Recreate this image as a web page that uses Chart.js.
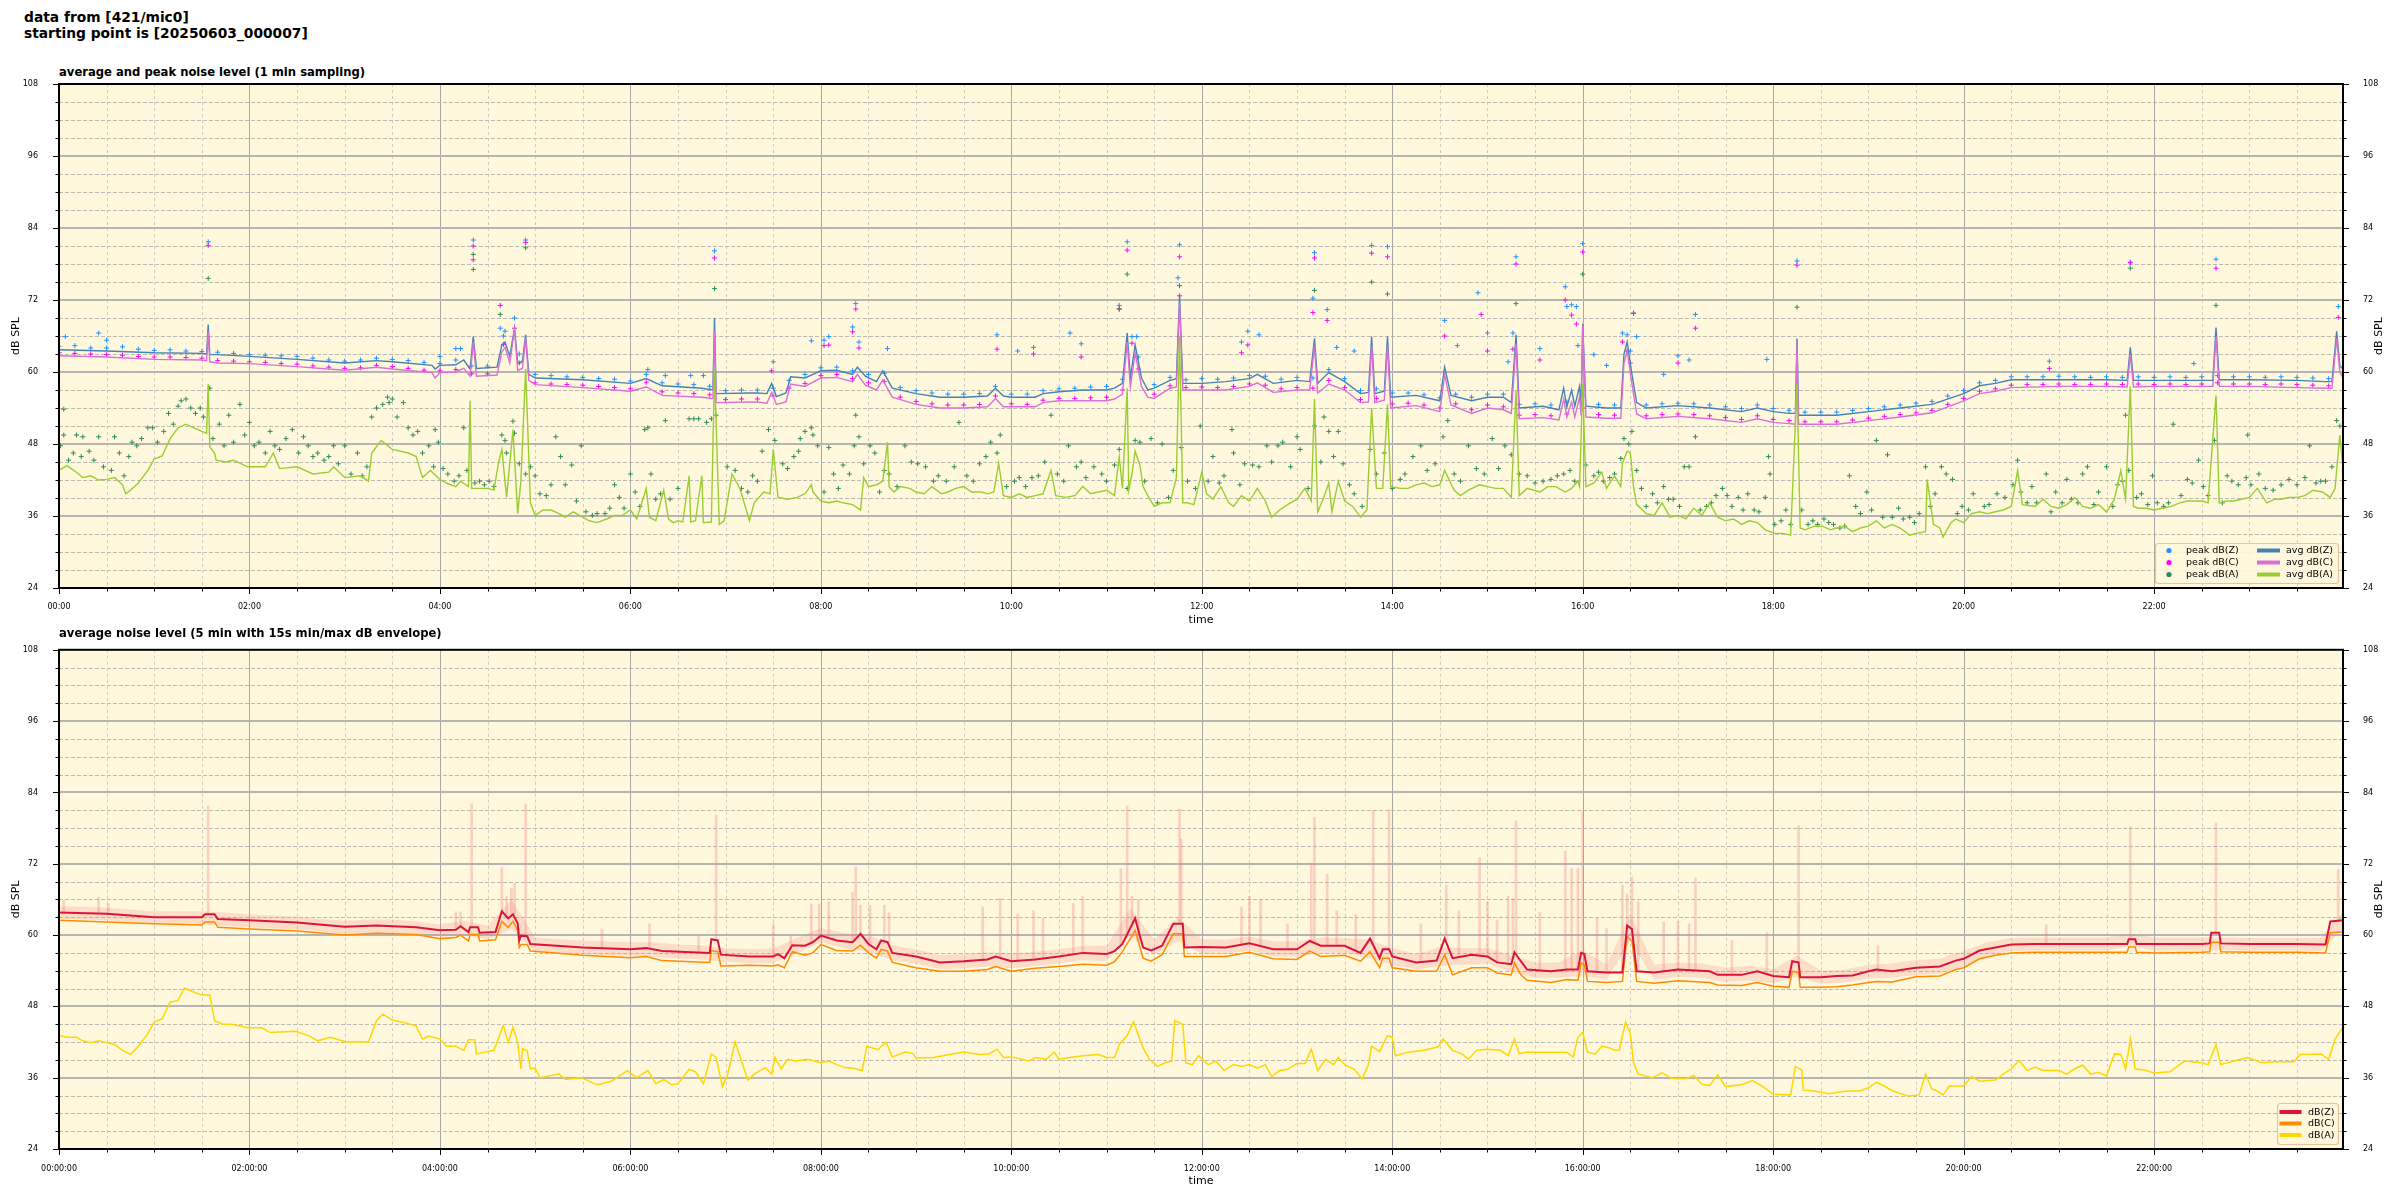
<!DOCTYPE html>
<html lang="en">
<head>
    <meta charset="UTF-8">
    <title>noise level 421/mic0</title>
    <style>
        body {
            margin: 0;
            width: 2400px;
            height: 1200px;
            background: #fff;
            position: relative;
            overflow: hidden;
            font-family: 'DejaVu Sans', sans-serif;
            color: #000;
        }
        .head {
            position: absolute;
            left: 24px;
            top: 10px;
            font-weight: bold;
            font-size: 13.8px;
            line-height: 15.5px;
        }
        .sub {
            position: absolute;
            left: 59px;
            font-weight: bold;
            font-size: 11.6px;
            line-height: 14px;
        }
        canvas {
            position: absolute;
            left: 0;
        }
    </style>
</head>
<body>
    <div class="head">data from [421/mic0]<br>starting point is [20250603_000007]</div>
    <div class="sub" style="top:65px">average and peak noise level (1 min sampling)</div>
    <canvas id="topChart" width="2400" height="572" style="top:60px"></canvas>
    <div class="sub" style="top:626px">average noise level (5 min with 15s min/max dB envelope)</div>
    <canvas id="bottomChart" width="2400" height="568" style="top:632px"></canvas>

    <script src="https://cdn.jsdelivr.net/npm/chart.js"></script>
    <script>
        // all times are minutes after 00:00 of 2025-06-03
        const xTicks = [0, 120, 240, 360, 480, 600, 720, 840, 960, 1080, 1200, 1320];
        const yTicks = [24, 36, 48, 60, 72, 84, 96, 108];

        // ---- top panel: 1 min averages ----
        const avgZCMin = [
            0, 30, 60, 90, 93, 94, 95, 100, 120, 150,
            180, 200, 210, 235, 237, 240, 250, 255, 259, 261,
            263, 276, 279, 281, 284, 287, 289, 292, 294, 296,
            300, 330, 360, 370, 380, 405, 412, 413, 414, 435,
            440, 446, 449, 452, 458, 461, 470, 475, 480, 490,
            500, 503, 508, 515, 519, 525, 540, 555, 570, 585,
            590, 595, 600, 615, 620, 630, 645, 660, 665, 670,
            673, 675, 678, 682, 686, 690, 700, 704, 706, 708,
            720, 735, 750, 755, 765, 780, 788, 791, 793, 800,
            810, 820, 825, 827, 829, 835, 837, 839, 855, 870,
            873, 877, 890, 900, 910, 915, 918, 920, 935, 945,
            948, 950, 953, 955, 958, 959, 960, 962, 975, 984,
            986, 988, 991, 994, 1000, 1020, 1040, 1060, 1070, 1080,
            1090, 1094, 1095, 1096, 1100, 1120, 1140, 1160, 1180, 1200,
            1210, 1220, 1230, 1260, 1290, 1303, 1305, 1307, 1320, 1350,
            1357, 1359, 1361, 1380, 1410, 1428, 1432, 1435, 1437, 1439
        ];
        const avgZ = [
            63.7, 63.5, 63.2, 63.1, 63.0, 67.9, 62.9, 62.9, 62.6, 62.1,
            61.5, 61.9, 61.7, 61.1, 60.5, 61.1, 61.2, 62.0, 60.5, 65.9,
            60.6, 60.8, 64.5, 65.0, 62.6, 67.3, 61.5, 61.8, 66.2, 59.6,
            59.0, 58.7, 58.1, 58.9, 57.7, 57.3, 57.0, 69.0, 56.4, 56.5,
            56.5, 56.4, 58.1, 55.9, 56.5, 59.2, 59.0, 59.6, 60.2, 60.3,
            59.6, 60.8, 59.3, 58.4, 60.2, 57.3, 56.4, 55.8, 55.8, 56.0,
            57.3, 56.0, 55.8, 55.8, 56.4, 56.7, 57.0, 57.0, 57.3, 58.1,
            66.5, 59.0, 64.5, 59.0, 57.0, 57.3, 58.6, 58.9, 72.7, 58.1,
            58.1, 58.4, 58.9, 59.6, 58.1, 58.6, 58.4, 65.6, 58.1, 59.9,
            58.4, 56.4, 56.6, 65.9, 56.4, 56.8, 65.9, 55.8, 56.1, 55.2,
            60.8, 56.1, 55.2, 55.8, 55.8, 54.9, 66.2, 54.0, 54.3, 53.7,
            57.3, 54.2, 57.0, 54.3, 57.6, 54.5, 68.0, 54.3, 54.0, 54.0,
            63.0, 65.0, 59.6, 54.9, 54.0, 54.4, 54.0, 53.4, 54.0, 53.4,
            53.1, 53.1, 65.6, 52.8, 52.8, 52.8, 53.4, 54.0, 54.6, 56.4,
            57.7, 58.1, 58.7, 58.7, 58.7, 58.6, 64.1, 58.6, 58.6, 58.6,
            58.6, 67.4, 58.7, 58.7, 58.6, 58.4, 58.4, 66.8, 61.0, 60.5
        ];
        const avgC = [
            62.7, 62.5, 62.1, 62.0, 61.9, 66.8, 61.7, 61.5, 61.4, 60.9,
            60.3, 60.8, 60.5, 59.9, 59.0, 59.9, 60.0, 60.6, 59.3, 65.0,
            59.3, 59.5, 63.3, 64.1, 61.5, 67.1, 60.3, 60.6, 65.6, 58.6,
            57.9, 57.4, 56.8, 57.5, 56.1, 55.8, 55.6, 66.8, 54.9, 55.0,
            55.0, 54.8, 56.6, 54.6, 55.0, 58.0, 57.6, 58.3, 59.0, 59.1,
            58.4, 59.6, 57.8, 57.0, 58.7, 55.8, 54.6, 54.0, 54.0, 54.2,
            55.6, 54.2, 54.2, 54.2, 54.9, 55.2, 55.2, 55.2, 55.5, 56.3,
            65.0, 57.5, 63.2, 57.6, 55.8, 55.6, 57.3, 57.5, 71.5, 57.0,
            57.0, 57.0, 57.6, 58.2, 56.6, 57.0, 57.0, 64.4, 56.5, 58.0,
            57.0, 54.9, 55.0, 64.4, 54.9, 55.3, 64.4, 54.0, 54.4, 53.4,
            59.6, 54.5, 53.1, 54.0, 53.7, 53.1, 64.7, 52.2, 52.4, 52.0,
            55.5, 52.5, 55.0, 52.5, 55.8, 52.7, 67.7, 52.5, 52.3, 52.3,
            61.5, 63.5, 58.0, 53.0, 52.2, 52.6, 52.2, 51.6, 52.2, 51.6,
            51.4, 51.3, 64.7, 51.3, 51.3, 51.3, 51.9, 52.5, 53.2, 55.2,
            56.4, 56.8, 57.4, 57.6, 57.6, 57.5, 62.9, 57.5, 57.6, 57.6,
            57.6, 65.9, 57.6, 57.6, 57.4, 57.3, 57.3, 65.6, 60.0, 59.0
        ];
        const avgAMin = [
            0, 5, 11, 15, 20, 25, 30, 35, 40, 42,
            45, 50, 56, 60, 65, 70, 75, 80, 85, 90,
            93, 94, 95, 98, 99, 105, 110, 119, 130, 135,
            139, 150, 160, 170, 173, 180, 190, 195, 197, 203,
            210, 220, 225, 229, 234, 240, 244, 250, 253, 258,
            259, 260, 263, 270, 274, 277, 279, 282, 286, 289,
            291, 294, 297, 300, 305, 310, 315, 319, 324, 330,
            334, 339, 345, 350, 355, 360, 364, 370, 372, 376,
            381, 384, 387, 390, 393, 397, 398, 401, 405, 406,
            411, 413, 416, 419, 424, 429, 435, 438, 444, 448,
            450, 453, 459, 465, 470, 474, 475, 480, 485, 490,
            494, 500, 505, 507, 510, 515, 519, 522, 523, 526,
            530, 536, 540, 545, 550, 556, 560, 565, 570, 575,
            581, 585, 589, 592, 595, 600, 605, 610, 615, 620,
            625, 628, 634, 640, 645, 650, 655, 660, 665, 668,
            670, 673, 674, 676, 678, 681, 683, 686, 690, 695,
            700, 704, 706, 708, 711, 715, 720, 723, 727, 732,
            737, 740, 745, 750, 755, 760, 764, 769, 774, 780,
            785, 789, 791, 793, 796, 800, 802, 806, 810, 815,
            820, 824, 827, 830, 834, 837, 839, 845, 850, 855,
            860, 865, 870, 873, 879, 883, 888, 895, 900, 905,
            910, 915, 918, 920, 925, 933, 938, 943, 949, 953,
            957, 958, 960, 962, 967, 972, 975, 980, 984, 985,
            988, 990, 992, 994, 1000, 1005, 1010, 1015, 1020, 1025,
            1030, 1035, 1040, 1045, 1050, 1055, 1060, 1065, 1070, 1075,
            1081, 1086, 1091, 1095, 1097, 1100, 1106, 1111, 1116, 1120,
            1125, 1130, 1135, 1140, 1145, 1150, 1155, 1160, 1166, 1170,
            1176, 1177, 1181, 1185, 1187, 1192, 1195, 1200, 1205, 1210,
            1215, 1220, 1225, 1230, 1234, 1237, 1245, 1250, 1255, 1260,
            1265, 1270, 1275, 1280, 1285, 1290, 1295, 1299, 1302, 1305,
            1307, 1310, 1315, 1320, 1325, 1331, 1336, 1341, 1346, 1350,
            1354, 1359, 1361, 1366, 1370, 1375, 1380, 1385, 1391, 1396,
            1400, 1405, 1410, 1415, 1420, 1426, 1431, 1434, 1437, 1439
        ];
        const avgA = [
            43.6, 44.4, 43.3, 42.4, 42.7, 42.0, 42.1, 42.4, 41.2, 39.7,
            40.3, 41.5, 43.6, 45.5, 46.0, 48.9, 50.7, 51.3, 50.7, 50.1,
            49.8, 58.0, 47.5, 46.5, 45.3, 45.0, 45.3, 44.2, 44.2, 46.5,
            43.9, 44.2, 43.0, 43.3, 44.2, 42.4, 42.7, 41.8, 46.5, 48.6,
            47.1, 46.5, 45.9, 42.4, 43.6, 42.1, 41.5, 40.9, 41.8, 40.9,
            55.2, 40.6, 40.6, 40.6, 40.3, 45.0, 47.1, 39.1, 50.4, 36.4,
            41.8, 60.5, 38.2, 36.1, 37.0, 37.0, 36.4, 35.8, 36.7, 35.8,
            35.2, 34.9, 35.5, 36.1, 36.1, 37.0, 35.5, 40.6, 35.8, 35.2,
            40.3, 35.5, 34.9, 35.2, 35.0, 42.7, 35.0, 35.2, 42.7, 34.9,
            35.0, 60.2, 34.6, 35.2, 43.0, 40.6, 35.2, 38.2, 40.0, 39.7,
            47.1, 39.1, 38.8, 39.1, 39.7, 41.2, 40.0, 38.5, 38.2, 38.5,
            38.2, 37.9, 37.0, 42.4, 40.9, 41.2, 41.8, 48.3, 40.9, 40.0,
            40.9, 40.6, 40.0, 39.7, 40.9, 39.7, 40.0, 40.6, 40.9, 40.0,
            40.0, 39.7, 40.0, 44.8, 39.4, 39.1, 39.7, 39.1, 39.4, 39.7,
            43.6, 39.4, 39.1, 39.4, 40.9, 39.7, 40.0, 40.3, 39.4, 45.9,
            40.6, 57.3, 40.3, 43.0, 46.8, 44.5, 40.9, 39.4, 37.6, 38.2,
            38.2, 42.4, 66.0, 38.2, 38.2, 37.9, 43.3, 39.7, 38.8, 40.9,
            38.2, 37.6, 39.4, 38.5, 40.6, 38.5, 35.8, 37.0, 37.9, 38.8,
            40.6, 38.5, 55.5, 36.7, 38.5, 41.5, 36.7, 41.8, 38.5, 37.6,
            35.8, 37.0, 54.0, 40.6, 40.6, 54.6, 40.9, 40.6, 40.6, 41.2,
            41.5, 40.9, 41.2, 43.6, 40.3, 39.4, 40.3, 41.2, 40.9, 40.6,
            40.6, 39.1, 57.0, 39.4, 40.6, 40.0, 40.9, 40.9, 40.0, 40.6,
            41.8, 40.9, 58.0, 40.9, 41.5, 43.3, 40.6, 42.7, 40.9, 44.8,
            46.8, 46.5, 40.9, 37.9, 36.4, 36.1, 38.2, 35.8, 36.1, 35.5,
            37.3, 36.1, 38.2, 35.8, 35.2, 35.5, 34.6, 35.2, 34.9, 33.7,
            33.1, 33.1, 32.8, 58.0, 34.0, 33.7, 34.3, 34.3, 33.7, 34.0,
            34.3, 33.4, 34.0, 34.3, 35.2, 34.0, 34.6, 34.0, 32.8, 33.1,
            33.4, 42.1, 34.6, 34.0, 32.5, 34.9, 35.5, 34.9, 36.4, 36.7,
            36.4, 36.7, 37.0, 37.6, 43.6, 37.9, 37.6, 38.8, 37.6, 37.3,
            37.9, 39.1, 37.6, 37.3, 37.9, 36.7, 38.8, 43.6, 38.8, 57.6,
            37.6, 37.3, 37.3, 37.0, 37.3, 37.6, 38.2, 38.5, 38.5, 38.5,
            38.2, 56.1, 38.2, 38.5, 38.5, 38.8, 39.1, 40.6, 38.2, 38.8,
            38.8, 39.1, 39.1, 39.4, 40.3, 40.0, 39.1, 40.6, 49.5, 44.0
        ];

        // ---- top panel: 1 min peaks, read every 10 min along the dense band ----
        const peakZ = [
            64.3, 64.4, 64.0, 64.0, 64.2, 63.8, 63.6, 63.7, 63.5, 63.4,
            63.3, 63.1, 62.9, 62.8, 62.7, 62.6, 62.3, 62.0, 61.8, 62.0,
            62.3, 62.1, 61.9, 61.6, 61.4, 62.0, 61.0, 61.0, 66.0, 63.0,
            59.6, 59.4, 59.2, 59.1, 58.9, 58.8, 58.5, 59.6, 58.2, 58.0,
            57.9, 57.6, 56.9, 57.0, 57.0, 57.3, 58.6, 59.6, 60.7, 60.8,
            60.2, 59.6, 59.8, 57.4, 56.9, 56.5, 56.3, 56.3, 56.4, 57.6,
            56.3, 56.3, 56.9, 57.2, 57.3, 57.5, 57.6, 58.8, 62.5, 57.9,
            59.1, 58.7, 58.9, 58.8, 59.0, 59.4, 59.3, 58.8, 59.1, 59.0,
            60.4, 58.9, 56.9, 57.2, 56.5, 56.5, 56.2, 55.7, 56.3, 55.8,
            56.3, 56.3, 54.6, 54.7, 54.5, 55.0, 56.0, 54.6, 54.5, 63.5,
            54.5, 54.7, 54.8, 54.7, 54.5, 54.2, 53.9, 54.5, 53.9, 53.6,
            53.3, 53.3, 53.3, 53.6, 53.9, 54.2, 54.5, 54.8, 55.1, 56.0,
            56.9, 58.2, 58.6, 59.2, 59.2, 59.2, 59.3, 59.2, 59.1, 59.2,
            59.1, 59.2, 59.1, 59.2, 59.1, 59.2, 59.4, 59.2, 59.2, 59.1,
            59.2, 59.1, 59.0, 58.9
        ];
        const peakC = [
            63.2, 63.1, 63.0, 62.9, 62.8, 62.6, 62.5, 62.5, 62.4, 62.3,
            61.9, 61.8, 61.7, 61.6, 61.4, 61.3, 61.0, 60.8, 60.6, 60.7,
            61.1, 60.9, 60.6, 60.3, 60.2, 60.4, 59.7, 59.7, 64.6, 61.5,
            58.2, 58.0, 57.9, 57.8, 57.6, 57.4, 57.2, 58.3, 56.7, 56.5,
            56.4, 56.2, 55.4, 55.5, 55.5, 56.0, 57.3, 58.1, 59.4, 59.6,
            58.9, 58.2, 58.4, 55.8, 55.1, 54.7, 54.5, 54.5, 54.6, 56.0,
            54.7, 54.6, 55.3, 55.6, 55.6, 55.7, 55.8, 57.0, 60.5, 56.3,
            57.7, 57.4, 57.5, 57.4, 57.6, 58.0, 57.8, 57.2, 57.4, 57.3,
            58.6, 57.4, 55.4, 55.6, 54.7, 54.8, 54.5, 54.0, 54.7, 53.7,
            54.5, 54.2, 52.8, 52.9, 52.7, 53.0, 54.0, 52.9, 52.8, 61.5,
            52.7, 52.9, 53.0, 52.9, 52.7, 52.4, 52.1, 52.7, 52.1, 51.9,
            51.7, 51.7, 51.7, 52.0, 52.3, 52.6, 52.9, 53.2, 53.6, 54.6,
            55.6, 56.8, 57.2, 57.8, 57.9, 57.9, 58.0, 57.9, 57.9, 58.0,
            57.9, 58.0, 57.9, 58.0, 57.9, 58.0, 58.2, 58.0, 58.0, 57.9,
            58.0, 57.9, 57.8, 57.7
        ];
        // 10 minute slots for the two arrays above
        const peakSlotMin = peakZ.map((_, i) => i * 10);

        const peakZOutMin = [
            4, 25, 30, 94, 240, 250, 253, 261, 278, 281,
            287, 294, 371, 382, 398, 406, 413, 450, 474, 482,
            485, 500, 502, 504, 522, 591, 604, 614, 637, 644,
            668, 673, 676, 679, 705, 706, 745, 749, 756, 790,
            791, 799, 805, 816, 827, 837, 873, 881, 894, 900,
            913, 916, 918, 933, 949, 950, 953, 956, 957, 960,
            967, 975, 985, 988, 992, 994, 1011, 1020, 1027, 1031,
            1076, 1095, 1254, 1305, 1345, 1359, 1436
        ];
        const peakZOut = [
            65.9, 66.5, 65.3, 81.7, 62.6, 63.9, 63.9, 82.0, 67.3, 66.8,
            69.0, 82.0, 60.4, 59.4, 59.4, 59.4, 80.2, 61.7, 65.2, 65.3,
            65.9, 67.5, 71.4, 65.0, 63.9, 66.2, 63.5, 64.1, 66.5, 64.7,
            71.1, 81.7, 65.9, 65.9, 75.7, 81.2, 65.0, 66.8, 66.2, 72.3,
            79.9, 70.4, 64.1, 63.5, 81.1, 80.9, 68.6, 64.4, 73.2, 66.5,
            61.7, 66.5, 79.2, 63.9, 74.2, 70.9, 71.2, 70.9, 64.4, 81.4,
            62.9, 61.1, 66.5, 66.2, 69.8, 65.9, 59.6, 62.7, 62.0, 69.6,
            62.1, 78.5, 61.8, 78.3, 61.4, 78.8, 70.9
        ];
        const peakCOutMin = [
            94, 261, 261, 278, 287, 294, 413, 449, 482, 485,
            500, 502, 504, 591, 614, 644, 668, 673, 676, 706,
            706, 745, 749, 790, 791, 799, 827, 837, 873, 896,
            900, 916, 918, 933, 949, 953, 956, 960, 985, 988,
            992, 1020, 1031, 1095, 1254, 1305, 1359, 1436
        ];
        const peakCOut = [
            81.1, 81.0, 78.7, 71.1, 67.3, 81.6, 79.0, 60.2, 64.4, 64.5,
            66.7, 70.5, 64.0, 63.8, 63.0, 62.5, 70.5, 80.3, 64.8, 79.2,
            72.7, 63.2, 64.5, 69.9, 79.0, 68.6, 79.8, 79.2, 66.0, 69.6,
            63.5, 63.8, 78.0, 62.0, 72.0, 69.5, 68.0, 80.0, 65.0, 63.5,
            69.8, 61.5, 67.3, 77.8, 60.6, 78.2, 77.3, 69.1
        ];
        const peakAMin = [
            1, 3, 3, 6, 9, 11, 14, 15, 19, 22,
            25, 28, 33, 35, 38, 41, 44, 46, 49, 52,
            56, 59, 62, 66, 69, 72, 75, 77, 80, 83,
            86, 89, 91, 95, 97, 101, 104, 107, 110, 114,
            117, 120, 123, 126, 130, 133, 136, 139, 143, 147,
            151, 154, 157, 160, 163, 167, 170, 173, 176, 180,
            184, 188, 191, 194, 197, 200, 204, 207, 208, 210,
            213, 217, 220, 223, 226, 229, 233, 236, 237, 239,
            242, 245, 249, 252, 255, 257, 262, 265, 268, 271,
            274, 279, 281, 282, 286, 287, 290, 294, 297, 300,
            303, 307, 310, 313, 316, 319, 323, 326, 329, 332,
            336, 339, 344, 347, 350, 353, 356, 360, 363, 366,
            369, 371, 373, 376, 379, 382, 385, 390, 397, 400,
            403, 408, 411, 414, 421, 426, 430, 434, 437, 440,
            443, 447, 451, 456, 459, 463, 466,
            467, 470, 474, 475, 478, 482, 485, 488, 491, 494,
            498, 501, 502, 504, 507, 511, 514, 517, 520, 523,
            528, 533, 537, 541, 546, 551, 554, 559, 564, 567,
            572, 576, 580, 584, 587, 591, 593, 597, 602, 605,
            609, 613, 617, 621, 625, 629, 633, 636, 641, 644,
            647, 652, 657, 660, 665, 668, 673, 678, 681, 684,
            688, 692, 695, 699, 702, 707, 711, 716, 719, 724,
            727, 731, 734, 739, 740, 744, 747, 752, 756, 761,
            764, 768, 771, 776, 780, 782, 787, 791, 795, 797,
            800, 803, 806, 809, 813, 816, 821, 826, 830, 835,
            840, 845, 848, 853, 858, 862, 867, 872, 875, 879,
            883, 888, 893, 898, 903, 907, 911, 915, 920, 925,
            930, 935, 940, 944,
            948, 952, 955, 962, 967, 970, 973, 977, 980, 984,
            986, 989, 991, 994, 997, 1000, 1004, 1007, 1011, 1014,
            1017, 1021, 1024, 1027, 1031, 1034, 1038, 1041, 1044, 1048,
            1051, 1054, 1058, 1061, 1064, 1068, 1071, 1075, 1077, 1078,
            1081, 1085, 1088, 1091, 1098, 1102, 1105, 1108, 1112, 1115,
            1118, 1122, 1125, 1128, 1132, 1135, 1139, 1142, 1145, 1149,
            1152, 1155, 1159, 1162, 1166, 1169, 1172, 1176, 1179, 1182,
            1186, 1189, 1193, 1196, 1199, 1203, 1206, 1213, 1216, 1221,
            1226, 1231, 1234, 1236, 1240, 1243, 1246, 1252, 1255, 1258,
            1262, 1265, 1268, 1272, 1275, 1278, 1282, 1285, 1290, 1294,
            1297, 1300, 1302, 1304, 1309, 1312, 1316, 1319, 1322, 1326,
            1329, 1332, 1337, 1341, 1344, 1348, 1351, 1354, 1358, 1363,
            1366, 1369, 1373, 1378, 1379, 1381, 1386, 1390, 1395, 1400,
            1405, 1410, 1415, 1418, 1422, 1425, 1428, 1432, 1435, 1437,
            94, 261, 261, 278, 294, 413, 668, 673, 706, 791,
            827, 837, 918, 960, 1095, 1305, 1359
        ];
        const peakA = [
            47.7, 49.5, 53.8, 45.3, 46.5, 49.5, 45.9, 49.2, 46.8, 45.3,
            49.2, 44.2, 43.6, 49.2, 46.5, 42.7, 45.9, 48.3, 47.7, 48.9,
            50.7, 50.7, 48.3, 50.1, 53.1, 51.3, 54.3, 55.2, 55.5, 54.0,
            53.1, 54.0, 52.5, 57.3, 48.9, 51.3, 47.7, 52.8, 48.3, 54.6,
            49.5, 51.6, 47.7, 48.3, 46.5, 50.1, 47.7, 47.1, 48.9, 50.4,
            46.5, 49.2, 47.7, 45.9, 46.5, 45.3, 45.9, 47.7, 44.7, 47.7,
            43.0, 46.5, 42.7, 44.2, 52.5, 54.0, 54.6, 55.8, 54.9, 55.5,
            52.5, 54.9, 50.7, 49.5, 50.1, 46.5, 47.7, 44.2, 50.4, 48.3,
            43.9, 43.0, 41.8, 42.7, 50.7, 43.6, 41.5, 41.8, 41.2, 41.8,
            40.9, 49.5, 48.6, 46.5, 51.8, 49.8, 44.7, 43.0, 44.2, 42.7,
            39.7, 39.4, 41.2, 49.2, 45.9, 41.2, 44.5, 38.5, 47.7, 36.7,
            36.1, 36.4, 36.4, 37.3, 41.2, 39.1, 37.3, 43.0, 40.0, 37.6,
            50.4, 50.7, 43.0, 38.8, 39.7, 51.9, 38.8, 40.6, 52.2, 52.2,
            52.2, 51.6, 52.2, 52.8, 44.2, 43.6, 40.6, 40.0, 42.7, 41.8,
            46.8, 50.4, 48.6, 44.7, 43.9, 45.9, 46.8,
            48.9, 50.1, 50.7, 49.5, 47.7, 40.0, 47.4, 43.0, 40.6, 44.5,
            43.0, 47.7, 52.8, 49.2, 44.7, 47.7, 46.5, 40.0, 43.6, 43.0,
            40.9, 47.7, 45.0, 44.7, 44.2, 41.8, 42.7, 41.8, 44.2, 51.6,
            42.7, 41.8, 44.7, 45.9, 48.3, 46.5, 49.5, 40.9, 41.8, 42.4,
            40.9, 42.4, 42.7, 45.0, 52.8, 43.0, 41.8, 47.7, 44.2, 45.0,
            42.4, 44.2, 43.0, 41.8, 44.5, 47.1, 40.6, 48.6, 48.3, 41.8,
            48.9, 38.2, 48.0, 39.1, 43.6, 47.4, 41.8, 40.6, 51.0, 41.8,
            45.9, 41.5, 42.7, 50.4, 46.5, 41.2, 44.7, 44.5, 44.2, 47.7,
            45.0, 47.7, 48.3, 44.2, 49.2, 47.1, 40.6, 51.0, 45.0, 52.5,
            50.1, 45.9, 50.1, 44.7, 41.2, 39.7, 37.6, 47.1, 43.0, 46.5,
            40.6, 42.1, 43.0, 45.9, 47.7, 43.6, 44.7, 49.2, 51.9, 43.0,
            41.8, 47.7, 43.9, 43.0, 48.9, 43.9, 47.7, 46.2, 43.0, 42.7,
            41.5, 41.8, 42.1, 42.7,
            43.0, 43.6, 41.8, 44.5, 42.7, 43.3, 41.8, 42.4, 43.0, 45.6,
            48.9, 48.0, 50.1, 43.6, 40.6, 37.6, 39.7, 38.2, 40.9, 38.8,
            38.8, 37.6, 44.2, 44.2, 49.2, 37.0, 37.6, 38.2, 39.4, 40.6,
            39.4, 37.6, 39.1, 37.0, 39.7, 37.0, 36.7, 39.1, 45.9, 43.0,
            34.6, 35.2, 37.0, 34.6, 37.0, 34.6, 35.2, 34.6, 35.5, 34.9,
            34.6, 34.0, 34.3, 42.7, 37.6, 36.4, 40.0, 37.0, 48.6, 35.8,
            46.2, 35.8, 37.3, 35.5, 35.8, 34.9, 36.4, 44.2, 37.6, 39.7,
            44.2, 43.0, 42.1, 36.4, 37.6, 37.0, 39.7, 37.6, 37.9, 39.7,
            39.1, 41.2, 45.3, 40.0, 38.2, 40.9, 38.2, 43.0, 36.7, 40.0,
            38.2, 42.1, 38.8, 38.2, 43.0, 44.2, 37.9, 40.0, 44.2, 37.6,
            41.2, 41.8, 52.8, 43.6, 39.1, 39.7, 37.9, 42.7, 38.2, 37.6,
            38.2, 51.3, 39.4, 42.1, 41.5, 45.3, 40.9, 39.4, 48.6, 38.2,
            42.7, 41.8, 41.2, 42.4, 49.5, 41.2, 43.0, 40.6, 40.3, 41.2,
            42.1, 41.2, 42.4, 47.7, 41.5, 41.8, 41.8, 44.2, 51.9, 51.0,
            75.6, 79.6, 77.1, 69.6, 80.7, 73.9, 70.5, 76.3, 74.4, 73.6,
            75.0, 73.0, 71.4, 76.3, 70.8, 77.3, 71.1
        ];

        // ---- bottom panel: 5 min averages ----
        const botMin = [
            0, 30, 60, 90, 92, 98, 100, 120, 150, 180,
            200, 225, 240, 250, 253, 258, 259, 264, 265, 275,
            279, 283, 286, 289, 290, 291, 295, 297, 330, 360,
            370, 380, 410, 411, 415, 417, 435, 450, 453, 457,
            462, 470, 475, 480, 490, 500, 505, 510, 515, 518,
            522, 525, 540, 555, 570, 585, 590, 600, 615, 630,
            645, 660, 665, 670, 678, 683, 688, 695, 702, 708,
            709, 720, 735, 750, 765, 780, 788, 795, 810, 820,
            826, 832, 834, 838, 840, 855, 868, 873, 878, 890,
            900, 906, 915, 917, 921, 925, 940, 950, 957, 959,
            961, 963, 975, 985, 988, 991, 994, 1005, 1020, 1040,
            1045, 1060, 1070, 1080, 1090, 1092, 1096, 1097, 1110, 1120,
            1130, 1140, 1145, 1155, 1170, 1185, 1195, 1200, 1210, 1220,
            1230, 1245, 1260, 1290, 1303, 1304, 1308, 1309, 1320, 1350,
            1355, 1356, 1361, 1362, 1380, 1410, 1428, 1431, 1439
        ];
        const botZ = [
            63.8, 63.6, 63.0, 63.0, 63.5, 63.5, 62.7, 62.5, 62.1, 61.4,
            61.6, 61.3, 60.8, 60.9, 61.5, 60.5, 61.3, 61.3, 60.4, 60.5,
            64.0, 62.8, 63.5, 62.0, 59.1, 59.9, 59.8, 58.5, 57.9, 57.6,
            57.8, 57.3, 57.0, 59.3, 59.1, 56.7, 56.4, 56.4, 56.8, 56.1,
            58.3, 58.2, 58.8, 59.9, 59.1, 58.8, 60.2, 58.5, 57.6, 59.1,
            58.8, 57.0, 56.4, 55.4, 55.6, 55.9, 56.4, 55.6, 55.9, 56.4,
            57.0, 56.8, 57.3, 58.5, 62.8, 57.9, 57.4, 58.2, 61.9, 61.9,
            57.9, 58.0, 57.9, 58.6, 57.6, 57.6, 59.0, 58.2, 58.2, 57.0,
            59.4, 56.1, 57.6, 57.6, 56.4, 55.4, 55.7, 59.4, 56.1, 56.7,
            56.4, 55.4, 55.1, 57.1, 55.6, 54.2, 53.9, 54.2, 54.2, 57.0,
            56.8, 53.9, 53.7, 53.7, 61.6, 61.0, 53.9, 53.7, 54.2, 53.9,
            53.3, 53.3, 53.9, 53.1, 52.9, 55.6, 55.4, 52.9, 52.9, 53.1,
            53.2, 53.9, 54.2, 53.9, 54.5, 54.7, 55.7, 56.0, 57.4, 57.9,
            58.4, 58.5, 58.5, 58.5, 58.5, 59.3, 59.3, 58.5, 58.5, 58.5,
            58.6, 60.4, 60.4, 58.6, 58.5, 58.5, 58.4, 62.3, 62.5
        ];
        const botC = [
            62.5, 62.2, 61.9, 61.7, 62.2, 62.2, 61.3, 61.0, 60.7, 60.0,
            60.3, 60.1, 59.4, 59.6, 60.0, 59.0, 60.1, 60.1, 59.0, 59.2,
            62.3, 61.3, 62.3, 60.8, 57.9, 58.4, 58.4, 57.3, 56.6, 56.2,
            56.4, 55.7, 55.4, 57.4, 57.2, 54.8, 54.9, 54.8, 55.0, 54.5,
            57.2, 56.6, 57.0, 58.4, 57.4, 57.3, 58.3, 57.0, 56.1, 57.6,
            57.3, 55.4, 54.5, 53.9, 53.9, 54.2, 54.7, 53.9, 54.4, 54.7,
            55.1, 54.9, 55.5, 57.2, 60.8, 56.1, 55.6, 56.7, 60.2, 60.2,
            56.4, 56.4, 56.4, 57.1, 56.0, 55.9, 57.3, 56.4, 56.6, 55.6,
            57.2, 54.5, 56.1, 56.1, 54.5, 53.9, 53.9, 56.7, 53.3, 54.5,
            54.5, 53.6, 53.3, 55.3, 53.3, 52.4, 52.0, 52.5, 52.4, 55.3,
            55.0, 52.2, 52.0, 52.2, 59.8, 59.0, 52.2, 51.9, 52.3, 52.0,
            51.6, 51.5, 52.0, 51.4, 51.2, 53.9, 53.7, 51.2, 51.2, 51.3,
            51.6, 52.0, 52.2, 52.1, 53.0, 53.1, 54.2, 54.5, 56.0, 56.6,
            57.0, 57.1, 57.1, 57.1, 57.1, 58.0, 58.0, 57.1, 57.0, 57.1,
            57.2, 58.8, 58.8, 57.2, 57.1, 57.1, 57.0, 60.4, 60.5
        ];
        const botAMin = [
            0, 5, 11, 15, 20, 25, 30, 35, 40, 45,
            50, 56, 60, 65, 70, 75, 79, 84, 90, 95,
            98, 103, 109, 119, 128, 133, 139, 149, 158, 163,
            171, 181, 189, 195, 200, 204, 210, 220, 225, 229,
            233, 240, 244, 250, 255, 258, 262, 263, 274, 280,
            283, 286, 289, 291, 292, 295, 297, 300, 303, 315,
            319, 329, 339, 348, 358, 364, 371, 376, 381, 386,
            390, 397, 401, 406, 411, 414, 418, 421, 426, 430,
            434, 438, 445, 449, 451, 455, 459, 464, 472, 480,
            485, 490, 495, 500, 506, 509, 516, 521, 525, 533,
            538, 540, 551, 561, 570, 580, 586, 591, 595, 600,
            611, 615, 622, 627, 630, 637, 645, 655, 660, 665,
            668, 673, 677, 683, 687, 692, 697, 701, 703, 708,
            710, 714, 718, 724, 729, 734, 740, 745, 750, 755,
            760, 764, 769, 774, 780, 785, 789, 793, 798, 803,
            806, 810, 816, 821, 825, 827, 832, 837, 840, 842,
            850, 860, 869, 872, 878, 884, 888, 893, 900, 908,
            913, 917, 920, 924, 935, 944, 950, 954, 957, 960,
            963, 968, 972, 977, 980, 983, 987, 990, 992, 995,
            1004, 1010, 1016, 1020, 1025, 1030, 1035, 1040, 1045, 1050,
            1060, 1067, 1074, 1080, 1091, 1094, 1098, 1099, 1105, 1115,
            1125, 1135, 1140, 1145, 1150, 1155, 1165, 1172, 1176, 1180,
            1183, 1187, 1191, 1200, 1205, 1210, 1220, 1225, 1230, 1235,
            1240, 1245, 1250, 1260, 1265, 1270, 1275, 1280, 1285, 1290,
            1295, 1299, 1302, 1305, 1308, 1315, 1320, 1330, 1339, 1350,
            1354, 1359, 1362, 1370, 1379, 1388, 1397, 1408, 1412, 1425,
            1430, 1434, 1439
        ];
        const botA = [
            43.1, 42.8, 42.8, 42.2, 41.9, 42.2, 41.9, 41.6, 40.6, 39.9,
            41.3, 43.4, 45.4, 45.9, 48.7, 49.0, 51.1, 50.5, 49.9, 49.9,
            45.6, 45.0, 45.0, 44.4, 44.4, 43.6, 43.7, 43.8, 43.0, 42.2,
            42.8, 42.0, 42.0, 42.0, 45.6, 46.7, 45.7, 45.1, 44.7, 42.5,
            43.0, 42.5, 41.3, 41.3, 40.6, 42.4, 42.4, 40.0, 40.6, 44.8,
            41.9, 44.5, 41.9, 37.5, 40.9, 40.5, 37.5, 37.6, 36.0, 36.6,
            35.7, 36.0, 34.8, 35.4, 37.2, 36.0, 37.2, 35.0, 35.7, 34.8,
            35.0, 37.4, 37.0, 35.0, 40.0, 39.4, 34.5, 36.3, 42.0, 38.8,
            35.6, 36.6, 37.7, 36.6, 39.5, 37.5, 39.1, 38.8, 39.1, 38.5,
            38.8, 38.2, 37.7, 37.6, 37.2, 41.3, 40.7, 42.0, 39.5, 40.3,
            40.1, 39.3, 39.4, 39.9, 40.3, 39.9, 40.0, 40.8, 39.4, 39.5,
            38.8, 39.4, 39.1, 40.3, 39.1, 39.4, 39.7, 39.9, 39.4, 39.4,
            41.6, 43.1, 45.4, 41.0, 39.1, 37.9, 38.5, 38.8, 45.6, 45.0,
            38.5, 38.2, 39.7, 38.2, 38.8, 37.2, 38.2, 37.9, 38.2, 37.6,
            38.2, 36.2, 37.2, 37.4, 38.4, 38.4, 40.8, 37.2, 39.1, 38.2,
            39.4, 38.2, 37.4, 35.8, 38.2, 41.3, 40.4, 43.1, 42.8, 39.7,
            40.3, 40.6, 41.2, 42.5, 40.6, 40.0, 39.1, 40.6, 40.8, 40.6,
            39.7, 42.5, 40.0, 40.3, 40.3, 40.3, 40.3, 39.5, 42.8, 43.6,
            40.3, 40.0, 41.3, 41.0, 40.6, 40.6, 45.4, 43.4, 38.5, 36.6,
            36.0, 36.8, 35.9, 35.8, 35.8, 36.4, 34.9, 34.7, 36.5, 34.5,
            34.8, 35.5, 34.4, 33.2, 33.1, 37.9, 37.3, 33.9, 33.8, 33.3,
            33.7, 33.8, 34.3, 35.2, 34.6, 33.8, 32.9, 33.1, 36.6, 34.1,
            33.8, 33.1, 34.6, 34.6, 36.2, 35.4, 35.6, 36.6, 37.5, 38.9,
            37.2, 37.8, 37.2, 37.2, 36.6, 37.5, 38.1, 36.6, 36.9, 36.3,
            40.0, 39.9, 37.5, 42.5, 37.5, 37.2, 36.8, 37.0, 38.8, 38.5,
            38.2, 41.6, 38.2, 38.8, 39.4, 38.5, 38.7, 38.7, 39.9, 40.0,
            39.1, 42.5, 44.5
        ];

        // ---- bottom panel: 15 s min/max envelope ----
        const envMin = [
            0, 15, 30, 45, 60, 75, 90, 105, 120, 135,
            150, 165, 180, 195, 210, 225, 240, 255, 270, 285,
            300, 315, 330, 345, 360, 375, 390, 405, 420, 435,
            450, 465, 480, 495, 510, 525, 540, 555, 570, 585,
            600, 615, 630, 645, 660, 675, 690, 705, 720, 735,
            750, 765, 780, 795, 810, 825, 840, 855, 870, 885,
            900, 915, 930, 945, 960, 975, 990, 1005, 1020, 1035,
            1050, 1065, 1080, 1095, 1110, 1125, 1140, 1155, 1170, 1185,
            1200, 1215, 1230, 1245, 1260, 1275, 1290, 1305, 1320, 1335,
            1350, 1365, 1380, 1395, 1410, 1425, 1439
        ];
        const envHi = [
            64.8, 64.8, 64.6, 64.3, 64.0, 64.0, 64.0, 63.8, 63.5, 63.3,
            63.1, 62.7, 62.4, 62.6, 62.6, 62.3, 61.8, 62.4, 61.6, 66.0,
            59.6, 59.3, 59.1, 58.9, 58.8, 58.8, 58.4, 58.3, 57.8, 57.6,
            57.8, 59.5, 61.2, 60.3, 60.0, 58.3, 57.6, 56.6, 56.8, 57.1,
            56.9, 57.2, 57.6, 58.2, 58.2, 64.5, 59.2, 63.0, 59.3, 59.2,
            59.8, 58.9, 58.9, 59.6, 59.5, 59.2, 57.8, 56.8, 58.0, 57.8,
            57.8, 56.6, 55.4, 55.4, 57.5, 55.0, 63.5, 55.0, 55.4, 55.2,
            54.5, 54.8, 54.3, 56.5, 54.0, 54.2, 55.0, 55.2, 55.8, 56.0,
            57.3, 58.8, 59.5, 59.6, 59.6, 59.6, 59.6, 60.2, 59.6, 59.6,
            59.6, 59.6, 59.5, 59.5, 59.5, 59.5, 63.8
        ];
        const envLo = [
            62.8, 62.6, 62.5, 62.2, 62.0, 61.9, 61.8, 61.5, 61.3, 61.1,
            60.9, 60.6, 60.2, 60.3, 60.3, 60.2, 59.7, 60.0, 59.3, 61.0,
            57.3, 57.0, 56.8, 56.6, 56.5, 56.3, 56.1, 55.9, 55.5, 55.3,
            55.3, 57.0, 58.8, 57.8, 57.2, 55.8, 55.2, 54.3, 54.4, 54.7,
            54.4, 54.8, 55.2, 55.8, 55.6, 60.0, 56.6, 59.0, 56.8, 56.8,
            57.4, 56.4, 56.4, 57.0, 57.0, 56.2, 55.0, 54.2, 54.8, 55.0,
            55.2, 53.8, 52.8, 52.8, 53.2, 52.5, 59.0, 52.5, 53.0, 52.8,
            52.1, 52.4, 51.9, 53.0, 51.8, 52.0, 52.7, 52.8, 53.3, 53.5,
            54.8, 56.4, 57.3, 57.4, 57.4, 57.4, 57.4, 58.2, 57.4, 57.4,
            57.4, 57.5, 57.4, 57.4, 57.4, 57.3, 61.0
        ];
        // short 15 s excursions of the envelope
        const spikeMin = [
            3, 25, 31, 94, 250, 253, 260, 279, 282, 285,
            287, 294, 342, 372, 403, 414, 450, 461, 474, 479,
            485, 500, 502, 505, 511, 520, 523, 582, 593, 604,
            614, 620, 639, 645, 669, 673, 676, 680, 706, 707,
            745, 750, 757, 774, 789, 791, 799, 805, 817, 828,
            838, 858, 874, 882, 895, 900, 906, 913, 916, 918,
            933, 949, 953, 957, 960, 969, 975, 985, 988, 991,
            995, 1011, 1020, 1027, 1031, 1054, 1076, 1096, 1146, 1252,
            1305, 1359, 1436
        ];
        const spikeLo = [
            63.8, 63.6, 63.6, 63.5, 60.9, 61.5, 61.3, 64.0, 62.8, 63.5,
            63.5, 59.8, 57.8, 57.8, 57.1, 59.1, 56.4, 57.5, 58.5, 59.5,
            59.6, 58.8, 59.5, 60.2, 58.5, 59.0, 58.0, 55.9, 56.2, 55.7,
            55.8, 56.0, 56.8, 57.0, 58.0, 59.5, 61.5, 59.0, 61.9, 61.9,
            58.3, 58.6, 58.2, 57.6, 59.0, 58.8, 58.2, 58.2, 57.5, 58.5,
            57.6, 55.4, 59.0, 56.4, 56.5, 56.4, 55.4, 55.1, 56.0, 56.8,
            53.9, 54.2, 54.2, 54.2, 56.8, 53.8, 53.7, 53.7, 61.6, 61.0,
            53.9, 54.0, 54.2, 54.0, 54.0, 53.3, 53.5, 55.4, 54.1, 58.5,
            59.3, 60.4, 62.4
        ];
        const spikeHi = [
            65.9, 66.4, 65.3, 81.7, 63.9, 63.9, 82.1, 71.4, 66.5, 67.9,
            68.7, 82.0, 61.0, 61.9, 59.8, 80.2, 61.9, 59.8, 65.2, 65.2,
            65.6, 67.2, 71.5, 65.0, 65.0, 65.0, 63.8, 64.7, 66.2, 63.5,
            64.1, 62.8, 65.3, 66.5, 71.2, 81.7, 66.5, 65.9, 81.2, 76.1,
            64.7, 66.5, 65.9, 61.9, 72.1, 79.8, 70.2, 64.1, 63.5, 80.9,
            81.1, 61.9, 68.4, 64.1, 73.0, 65.6, 62.5, 66.5, 66.2, 79.2,
            63.8, 74.1, 71.2, 71.2, 80.9, 62.8, 61.1, 68.4, 66.9, 69.8,
            65.6, 62.2, 62.3, 61.9, 69.6, 59.1, 60.4, 78.4, 58.2, 61.7,
            78.2, 78.9, 71.0
        ];

        const Y_MIN = 24;
        const Y_MAX = 108;
        const X_MAX = 1439;
        const SPIKE_COLOR = 'rgba(240, 128, 128, 0.32)';
        const BAND_COLOR = 'rgba(240, 128, 128, 0.22)';

        Chart.defaults.font.family = "'DejaVu Sans', sans-serif";
        Chart.defaults.color = '#000';

        const pad2 = n => String(n).padStart(2, '0');
        const hhmm = m => pad2(Math.floor(m / 60)) + ':' + pad2(m % 60);
        const hhmmss = m => hhmm(m) + ':00';
        const pts = (xs, ys) => xs.map((x, i) => ({ x: x, y: ys[i] }));

        // matplotlib-like background, grid, spines, ticks and legend
        const mplFrame = {
            id: 'mplFrame',
            beforeDatasetsDraw(chart) {
                const { ctx, chartArea: a } = chart;
                const x = chart.scales.x;
                const y = chart.scales.y;
                const vline = m => {
                    const px = Math.round(x.getPixelForValue(m)) + 0.5;
                    ctx.beginPath(); ctx.moveTo(px, a.top); ctx.lineTo(px, a.bottom); ctx.stroke();
                };
                const hline = (v, half) => {
                    const py = Math.round(y.getPixelForValue(v)) + (half ? 0.5 : 0);
                    ctx.beginPath(); ctx.moveTo(a.left, py); ctx.lineTo(a.right, py); ctx.stroke();
                };
                ctx.save();
                ctx.fillStyle = '#fff8dc';
                ctx.fillRect(a.left, a.top, a.right - a.left, a.bottom - a.top);
                ctx.lineWidth = 1;
                ctx.setLineDash([3, 3]);
                ctx.strokeStyle = '#d2cdbd';
                for (let m = 30; m < X_MAX; m += 30) if (m % 120) vline(m);
                ctx.setLineDash([4, 2]);
                ctx.strokeStyle = '#bdbab2';
                for (let v = Y_MIN + 3; v < Y_MAX; v += 3) if (v % 12) hline(v, true);
                ctx.setLineDash([]);
                ctx.strokeStyle = '#a9a9a9';
                for (let m = 120; m < X_MAX; m += 120) vline(m);
                ctx.lineWidth = 2;
                ctx.strokeStyle = '#b5b5b5';
                for (let v = Y_MIN + 12; v < Y_MAX; v += 12) hline(v, false);
                ctx.restore();
            },
            afterDatasetsDraw(chart, args, opts) {
                const { ctx, chartArea: a } = chart;
                const x = chart.scales.x;
                const y = chart.scales.y;
                ctx.save();
                ctx.strokeStyle = '#000';
                ctx.lineWidth = 1;
                ctx.beginPath();
                for (let m = 0; m <= X_MAX; m += 30) {
                    const px = Math.round(x.getPixelForValue(m)) + 0.5;
                    ctx.moveTo(px, a.bottom);
                    ctx.lineTo(px, a.bottom + (m % 120 ? 3.5 : 6));
                }
                for (let v = Y_MIN; v <= Y_MAX; v += 3) {
                    const py = Math.round(y.getPixelForValue(v)) + 0.5;
                    const len = v % 12 ? 3.5 : 6;
                    ctx.moveTo(a.left - len, py); ctx.lineTo(a.left, py);
                    ctx.moveTo(a.right, py); ctx.lineTo(a.right + len, py);
                }
                ctx.stroke();
                ctx.lineWidth = 2;
                ctx.strokeRect(a.left, a.top, a.right - a.left, a.bottom - a.top);

                // right hand axis title
                ctx.fillStyle = '#000';
                ctx.font = "11px 'DejaVu Sans'";
                ctx.textAlign = 'center';
                ctx.textBaseline = 'middle';
                ctx.save();
                ctx.translate(opts.rightTitleX, (a.top + a.bottom) / 2);
                ctx.rotate(-Math.PI / 2);
                ctx.fillText('dB SPL', 0, 0);
                ctx.restore();

                // legend box in the lower right corner
                const lg = opts.legend;
                const x0 = a.right - 5 - lg.w;
                const y0 = a.bottom - 5 - lg.h;
                ctx.beginPath();
                ctx.roundRect(x0 + 0.5, y0 + 0.5, lg.w, lg.h, 3);
                ctx.fillStyle = 'rgba(255, 248, 220, 0.85)';
                ctx.fill();
                ctx.strokeStyle = '#e4c59c';
                ctx.lineWidth = 1.2;
                ctx.stroke();
                ctx.font = "9.5px 'DejaVu Sans'";
                ctx.textAlign = 'left';
                lg.items.forEach((it, i) => {
                    const col = lg.cols[Math.floor(i / lg.rows)];
                    const cy = y0 + lg.firstRow + (i % lg.rows) * lg.rowGap;
                    if (col.kind === 'dot') {
                        ctx.beginPath();
                        ctx.arc(x0 + col.markX, cy, 2.6, 0, Math.PI * 2);
                        ctx.fillStyle = it.color;
                        ctx.fill();
                    } else {
                        ctx.beginPath();
                        ctx.moveTo(x0 + col.markX0, cy);
                        ctx.lineTo(x0 + col.markX1, cy);
                        ctx.strokeStyle = it.color;
                        ctx.lineWidth = 4;
                        ctx.stroke();
                    }
                    ctx.fillStyle = '#000';
                    ctx.fillText(it.label, x0 + col.textX, cy + 0.5);
                });
                ctx.restore();
            }
        };

        function makeOptions(o) {
            const yAxis = (position, width, pad) => ({
                type: 'linear',
                position: position,
                min: Y_MIN,
                max: Y_MAX,
                grid: { display: false },
                border: { display: false },
                afterBuildTicks: s => { s.ticks = yTicks.map(v => ({ value: v })); },
                ticks: { font: { size: 8 }, padding: pad },
                afterFit: s => { s.width = width; }
            });
            const left = yAxis('left', 59, 13);
            left.title = { display: true, text: 'dB SPL', font: { size: 11 }, padding: { top: 10, bottom: 0 } };
            return {
                responsive: false,
                animation: false,
                devicePixelRatio: 1,
                layout: { padding: { top: o.padTop, left: 0, right: 0, bottom: 0 } },
                plugins: {
                    legend: { display: false },
                    tooltip: { enabled: false },
                    mplFrame: { rightTitleX: 2379, legend: o.legend }
                },
                scales: {
                    x: {
                        type: 'linear',
                        min: 0,
                        max: X_MAX,
                        offset: false,
                        grid: { display: false },
                        border: { display: false },
                        afterBuildTicks: s => { s.ticks = xTicks.map(v => ({ value: v })); },
                        ticks: { font: { size: 8 }, padding: o.xTickPad, maxRotation: 0, autoSkip: false, callback: v => o.fmt(v) },
                        title: { display: true, text: 'time', font: { size: 11 }, padding: { top: 0, bottom: o.xTitlePad } },
                        afterFit: s => { s.height = o.xHeight; }
                    },
                    y: left,
                    yr: yAxis('right', 57, 12)
                }
            };
        }

        const line = (label, data, color, width, order) => ({
            label: label, data: data, borderColor: color, borderWidth: width,
            pointRadius: 0, tension: 0, fill: false, order: order
        });
        const peaks = (label, data, color, order) => ({
            label: label, data: data, showLine: false, pointStyle: 'cross',
            pointRadius: 2.5, pointBorderWidth: 1, borderColor: color, order: order
        });

        new Chart(document.getElementById('topChart'), {
            type: 'line',
            data: {
                datasets: [
                    line('avg dB(A)', pts(avgAMin, avgA), '#9acd32', 1.4, 1),
                    line('avg dB(C)', pts(avgZCMin, avgC), '#da70d6', 1.4, 2),
                    line('avg dB(Z)', pts(avgZCMin, avgZ), '#4682b4', 1.4, 3),
                    peaks('peak dB(A)', pts(peakAMin, peakA), '#2e8b57', 4),
                    peaks('peak dB(C)', pts(peakSlotMin, peakC).concat(pts(peakCOutMin, peakCOut)), '#ff00ff', 5),
                    peaks('peak dB(Z)', pts(peakSlotMin, peakZ).concat(pts(peakZOutMin, peakZOut)), '#1e90ff', 6)
                ]
            },
            options: makeOptions({
                padTop: 24, xTickPad: 6, xTitlePad: 5, xHeight: 44, fmt: hhmm,
                legend: {
                    w: 183, h: 40, rows: 3, firstRow: 7.5, rowGap: 12,
                    cols: [
                        { kind: 'dot', markX: 14, textX: 31 },
                        { kind: 'line', markX0: 102, markX1: 125, textX: 131 }
                    ],
                    items: [
                        { label: 'peak dB(Z)', color: '#1e90ff' },
                        { label: 'peak dB(C)', color: '#ff00ff' },
                        { label: 'peak dB(A)', color: '#2e8b57' },
                        { label: 'avg dB(Z)', color: '#4682b4' },
                        { label: 'avg dB(C)', color: '#da70d6' },
                        { label: 'avg dB(A)', color: '#9acd32' }
                    ]
                }
            }),
            plugins: [mplFrame]
        });

        new Chart(document.getElementById('bottomChart'), {
            type: 'line',
            data: {
                datasets: [
                    line('dB(Z)', pts(botMin, botZ), '#dc143c', 2, 1),
                    line('dB(C)', pts(botMin, botC), '#ff8c00', 1.5, 2),
                    line('dB(A)', pts(botAMin, botA), '#ffd700', 1.5, 3),
                    {
                        type: 'bar',
                        label: 'envelope spikes',
                        data: spikeMin.map((t, i) => ({ x: t, y: [spikeLo[i], spikeHi[i]] })),
                        backgroundColor: SPIKE_COLOR,
                        borderWidth: 0,
                        barThickness: 2,
                        grouped: false,
                        order: 4
                    },
                    {
                        label: 'envelope max', data: pts(envMin, envHi), borderColor: 'rgba(0,0,0,0)',
                        borderWidth: 0, pointRadius: 0, fill: false, order: 6
                    },
                    {
                        label: 'envelope min', data: pts(envMin, envLo), borderColor: 'rgba(0,0,0,0)',
                        borderWidth: 0, pointRadius: 0, fill: '-1', backgroundColor: BAND_COLOR, order: 5
                    }
                ]
            },
            options: makeOptions({
                padTop: 13, xTickPad: 7, xTitlePad: 12, xHeight: 51, fmt: hhmmss,
                legend: {
                    w: 61, h: 41, rows: 3, firstRow: 9, rowGap: 11.5,
                    cols: [{ kind: 'line', markX0: 2.5, markX1: 24.5, textX: 31 }],
                    items: [
                        { label: 'dB(Z)', color: '#dc143c' },
                        { label: 'dB(C)', color: '#ff8c00' },
                        { label: 'dB(A)', color: '#ffd700' }
                    ]
                }
            }),
            plugins: [mplFrame]
        });
    </script>
</body>
</html>
